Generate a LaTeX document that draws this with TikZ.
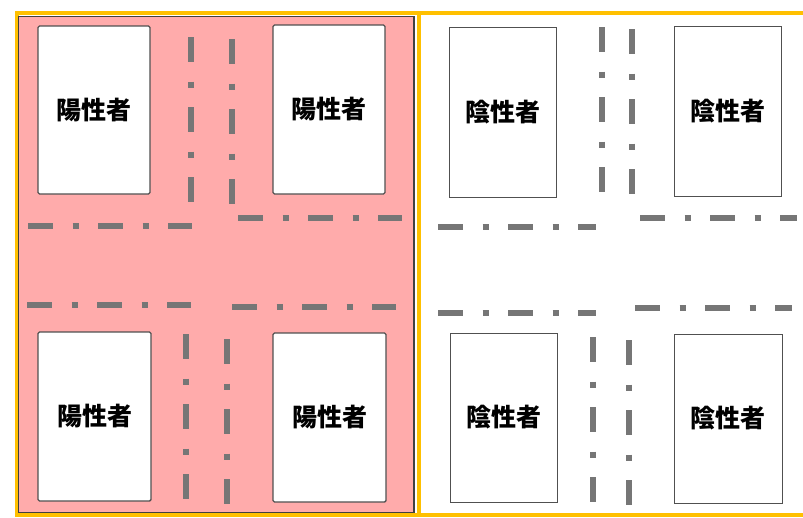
\documentclass[tikz,border=0pt]{standalone}
\usepackage{fontspec}
\newfontfamily\cjk{Noto Sans CJK JP}
\definecolor{pinkbg}{RGB}{255,171,171}
\definecolor{framey}{RGB}{255,192,0}
\definecolor{roadgray}{RGB}{118,118,118}
\definecolor{boxline}{RGB}{80,80,80}
\begin{document}
\begin{tikzpicture}[x=1pt,y=-1pt,
  house/.style={draw=boxline,fill=white,line width=1.4pt,rounded corners=1.5pt,
    font=\cjk\bfseries\fontsize{25}{28}\selectfont,inner sep=0pt},
  road/.style={draw=roadgray,line width=5.5pt,
    dash pattern=on 25pt off 19.5pt on 6pt off 19.5pt}]
\useasboundingbox (0,0) rectangle (803,517);
% yellow frame
\draw[framey,line width=4pt] (803,12.5) -- (16.5,12.5) -- (16.5,515) -- (803,515);
% pink panel
\fill[pinkbg] (18,16) rectangle (415,513);
\draw[black!75,line width=1.5pt] (18.5,16.5) rectangle (414,512.5);
\draw[framey,line width=4pt] (418.5,12.5) -- (418.5,515);
% houses, left panel
\node[house,minimum width=112pt,minimum height=168pt] (p1) at (94,110) {陽性者};
\node[house,minimum width=112pt,minimum height=169pt] (p2) at (329,109.5) {陽性者};
\node[house,minimum width=113pt,minimum height=169pt] (p3) at (94.5,416.5) {陽性者};
\node[house,minimum width=113pt,minimum height=169pt] (p4) at (329.5,417.5) {陽性者};
% houses, right panel
\node[house,line width=1pt,rounded corners=0pt,minimum width=107pt,minimum height=170pt] (n1) at (502.5,112) {陰性者};
\node[house,line width=1pt,rounded corners=0pt,minimum width=107pt,minimum height=170pt] (n2) at (727.5,111) {陰性者};
\node[house,line width=1pt,rounded corners=0pt,minimum width=107pt,minimum height=169pt] (n3) at (503.5,417.5) {陰性者};
\node[house,line width=1pt,rounded corners=0pt,minimum width=108pt,minimum height=169pt] (n4) at (728,418.5) {陰性者};
% roads, left panel
\coordinate (a1) at (191,37);  \coordinate (a2) at (191,203);
\coordinate (b1) at (232,39);  \coordinate (b2) at (232,205);
\coordinate (c1) at (28,226);  \coordinate (c2) at (192,226);
\coordinate (d1) at (238,218); \coordinate (d2) at (402,218);
\coordinate (e1) at (27,305);  \coordinate (e2) at (191,305);
\coordinate (f1) at (232,307); \coordinate (f2) at (396,307);
\coordinate (g1) at (186,334); \coordinate (g2) at (186,500);
\coordinate (h1) at (227,339); \coordinate (h2) at (227,505);
\foreach \s/\t in {a1/a2,b1/b2,c1/c2,d1/d2,e1/e2,f1/f2,g1/g2,h1/h2}
  \draw[road] (\s) -- (\t);
% roads, right panel
\coordinate (i1) at (602,27);  \coordinate (i2) at (602,193);
\coordinate (j1) at (632,29);  \coordinate (j2) at (632,195);
\coordinate (k1) at (438,227); \coordinate (k2) at (596,227);
\coordinate (l1) at (640,218); \coordinate (l2) at (797,218);
\coordinate (m1) at (438,313); \coordinate (m2) at (596,313);
\coordinate (o1) at (635,308); \coordinate (o2) at (792,308);
\coordinate (q1) at (593,337); \coordinate (q2) at (593,503);
\coordinate (r1) at (629,340); \coordinate (r2) at (629,506);
\foreach \s/\t in {i1/i2,j1/j2,k1/k2,l1/l2,m1/m2,o1/o2,q1/q2,r1/r2}
  \draw[road] (\s) -- (\t);
\end{tikzpicture}
\end{document}
